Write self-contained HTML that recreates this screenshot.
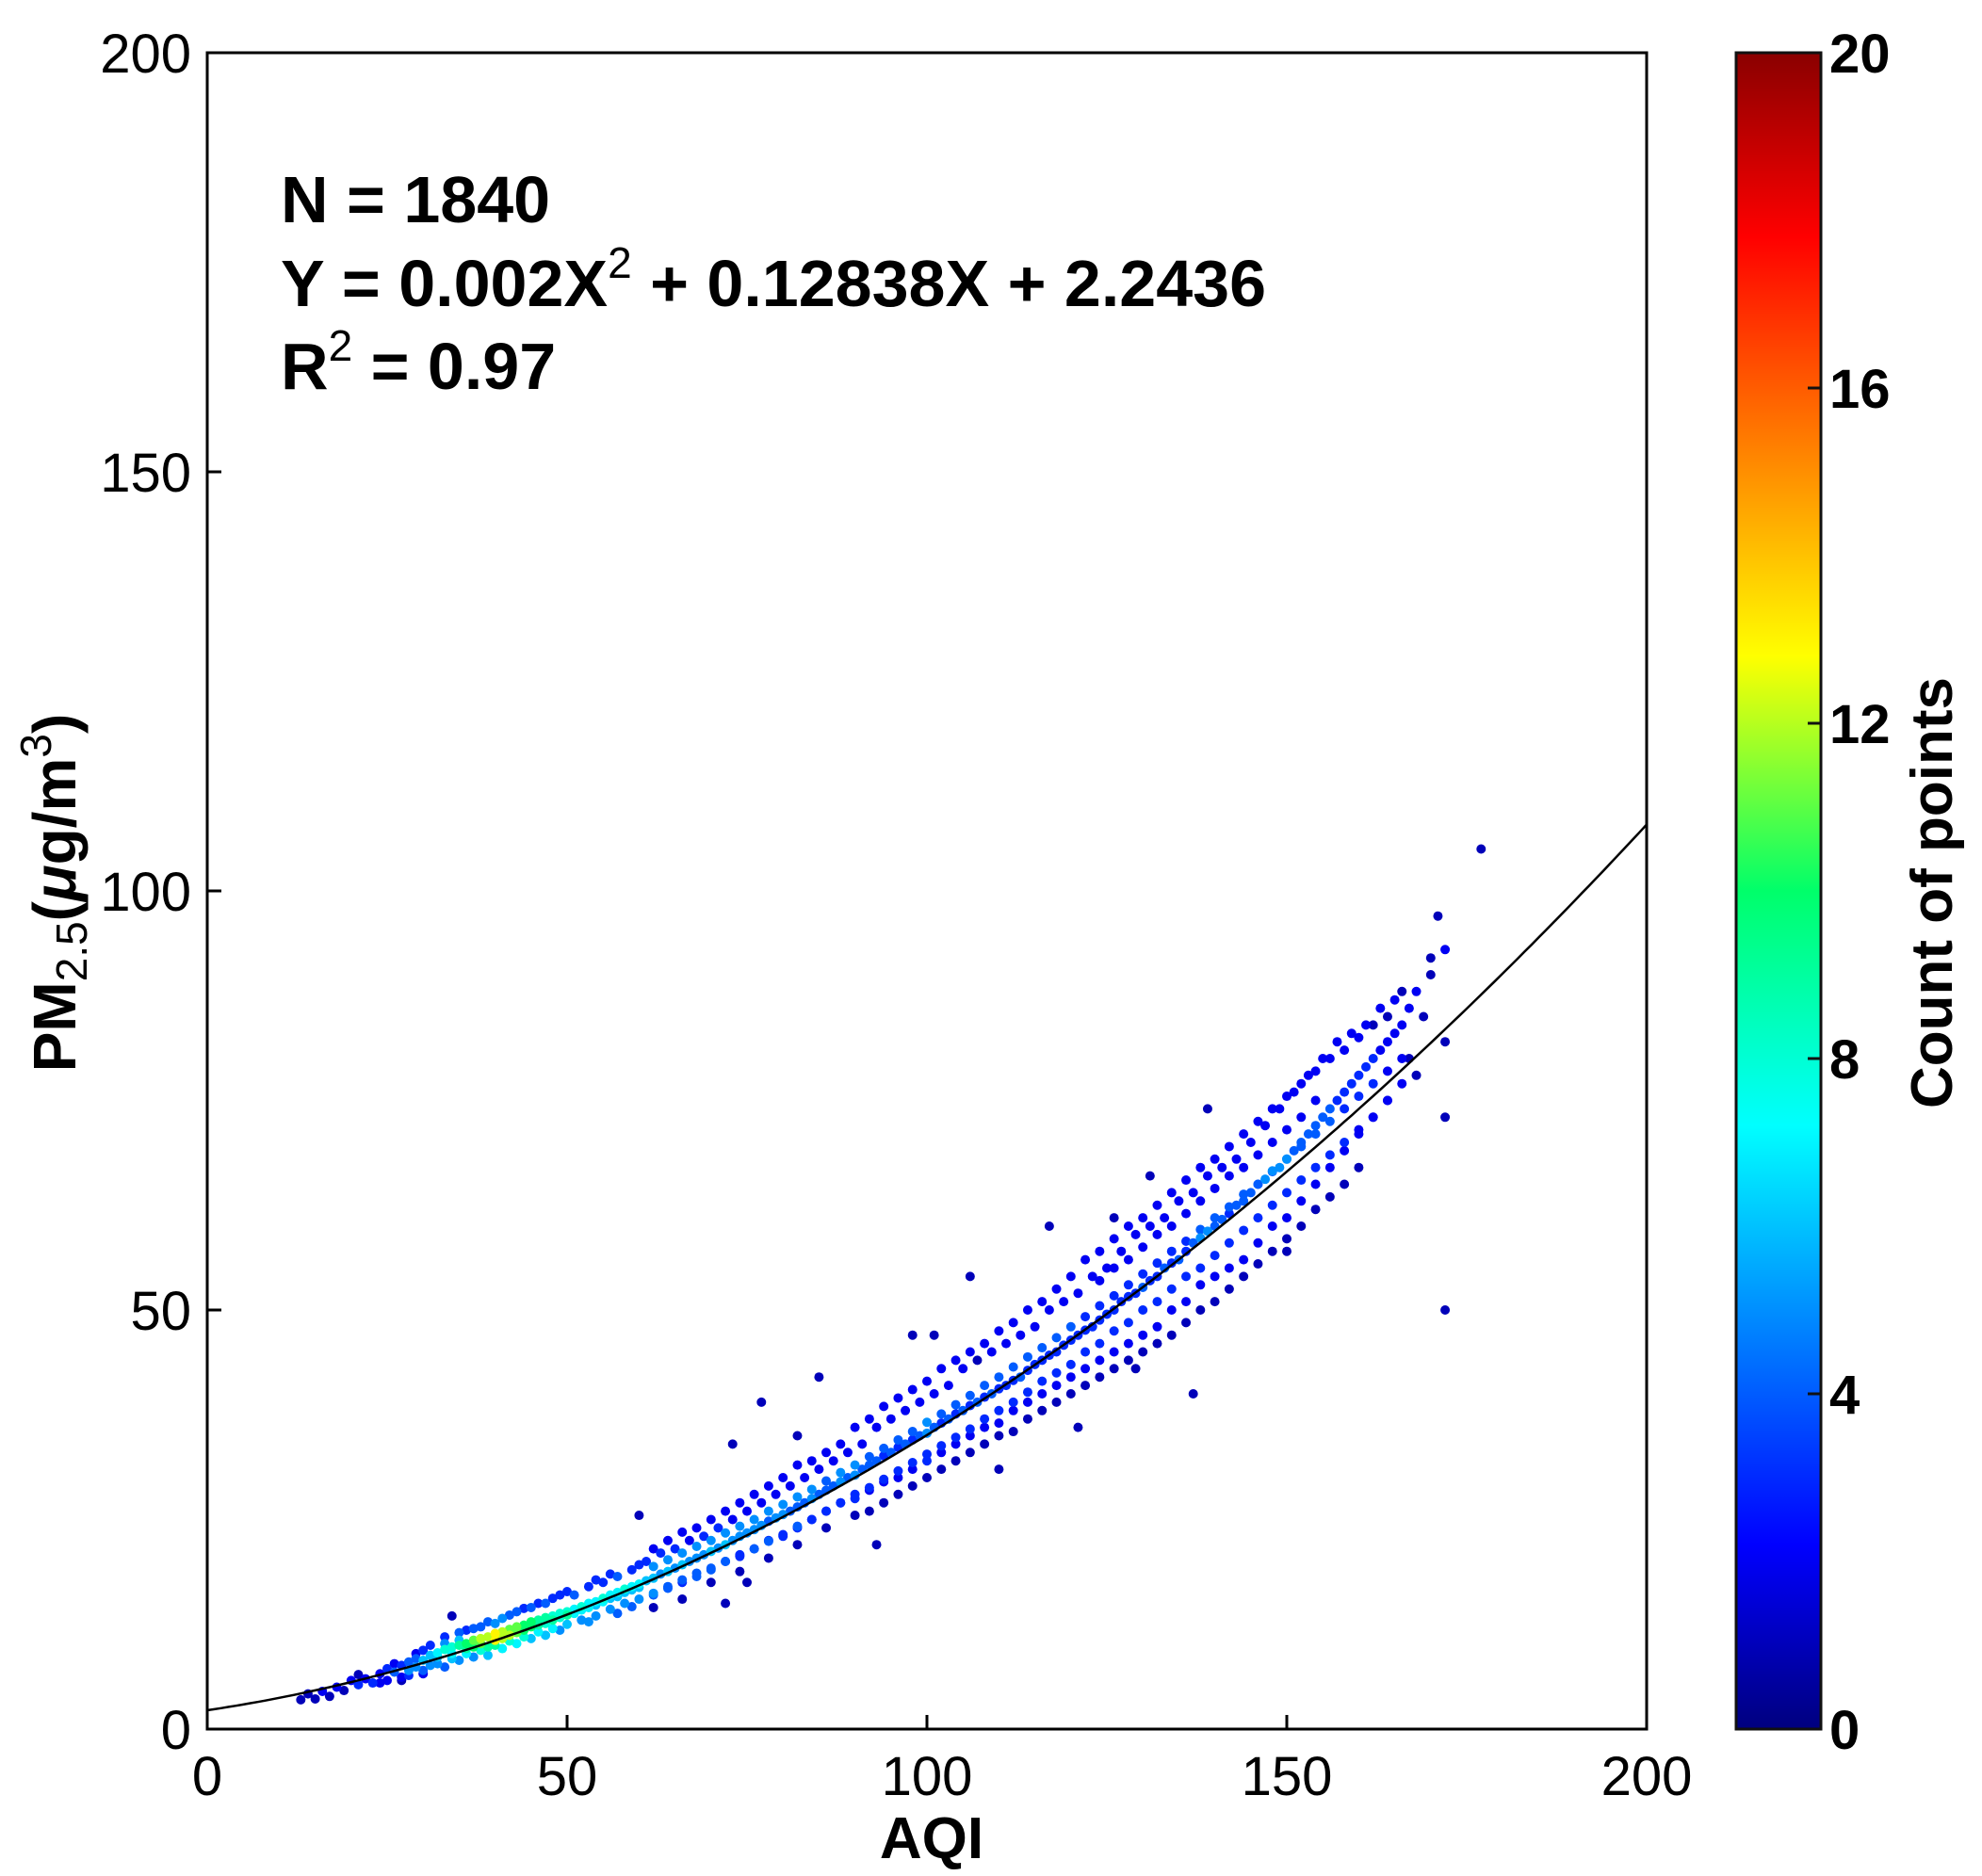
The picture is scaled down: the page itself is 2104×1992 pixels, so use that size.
<!DOCTYPE html>
<html><head><meta charset="utf-8"><title>PM2.5 vs AQI density scatter</title>
<style>
html,body{margin:0;padding:0;background:#fff;}
svg{display:block;font-family:"Liberation Sans",Arial,sans-serif;}
</style></head>
<body>
<svg id="chart" width="2104" height="1992" viewBox="0 0 2104 1992" xmlns="http://www.w3.org/2000/svg">
<defs>
<linearGradient id="jet" x1="0" y1="1" x2="0" y2="0">
<stop offset="0" stop-color="#00007f"/>
<stop offset="0.11" stop-color="#0000ff"/>
<stop offset="0.36" stop-color="#00ffff"/>
<stop offset="0.5" stop-color="#00ff6a"/>
<stop offset="0.64" stop-color="#ffff00"/>
<stop offset="0.89" stop-color="#ff0000"/>
<stop offset="1" stop-color="#8a0000"/>
</linearGradient>
<clipPath id="plotclip"><rect x="220" y="56" width="1528" height="1780"/></clipPath>
</defs>
<g id="points" clip-path="url(#plotclip)"></g>
<path id="fit" fill="none" stroke="#000" stroke-width="2.5"/>
<rect x="220" y="56" width="1528" height="1780" fill="none" stroke="#000" stroke-width="3"/>
<g id="xticks"></g>
<g id="yticks"></g>
<text x="989" y="1973" text-anchor="middle" font-size="62" font-weight="bold">AQI</text>
<text transform="translate(80,948) rotate(-90)" text-anchor="middle" font-size="64" font-weight="bold">PM<tspan font-weight="normal" font-size="46" dy="12">2.5</tspan><tspan dy="-12">(</tspan><tspan font-style="italic">μ</tspan>g/m<tspan font-weight="normal" font-size="46" dy="-26">3</tspan><tspan dy="26">)</tspan></text>
<g font-weight="bold" font-size="70">
<text x="298" y="236">N = 1840</text>
<text x="298" y="325">Y = 0.002X<tspan font-weight="normal" font-size="46" dy="-30">2</tspan><tspan dy="30"> + 0.12838X + 2.2436</tspan></text>
<text x="298" y="413">R<tspan font-weight="normal" font-size="46" dy="-30">2</tspan><tspan dy="30"> = 0.97</tspan></text>
</g>
<rect x="1843" y="56" width="90" height="1780" fill="url(#jet)" stroke="#111" stroke-width="3"/>
<g id="cticks"></g>
<text transform="translate(2072,948) rotate(-90)" text-anchor="middle" font-size="62" font-weight="bold">Count of points</text>
</svg>
<script>
const xTicks = [0, 50, 100, 150, 200];
const yTicks = [0, 50, 100, 150, 200];
const cTicks = [0, 4, 8, 12, 16, 20];
const fitCoef = [0.002, 0.12838, 2.2436];
const aqi = [13,14,15,16,17,18,19,20,21,21,22,23,24,25,25,26,27,27,28,28,29,29,30,30,30,
31,31,32,32,33,33,34,34,34,35,35,36,36,37,37,38,38,39,39,40,40,41,41,42,42,43,43,44,44,45,45,46,46,47,47,48,48,49,49,50,50,
51,51,52,52,53,53,54,54,55,55,56,56,57,57,58,58,59,59,60,60,61,61,62,62,63,63,64,64,65,65,66,66,67,67,68,68,69,69,70,70,60,73,72,75,
71,71,72,72,73,73,74,74,75,75,76,76,77,77,78,78,79,79,80,80,81,81,82,82,83,83,84,84,85,85,86,86,87,87,88,88,89,89,90,90,77,85,82,93,
91,91,92,92,93,93,94,94,95,95,96,96,97,97,98,98,99,99,100,100,101,101,102,102,103,103,104,104,105,105,106,106,107,107,108,108,109,109,110,110,111,111,112,112,113,113,114,114,115,115,116,116,117,117,118,118,119,119,120,120,98,106,110,101,121,117,
121,121,122,122,123,123,124,124,125,125,126,126,127,127,128,128,129,129,130,130,131,131,132,132,133,133,134,134,135,135,136,136,137,137,138,138,139,139,140,140,141,141,142,142,143,143,144,144,145,145,146,146,147,147,148,148,149,149,150,150,151,151,152,152,153,153,154,154,155,155,156,156,157,157,158,158,159,159,160,160,161,161,162,162,163,163,164,164,126,139,129,137,150,131,
165,165,166,167,167,168,169,170,171,172,172,172,172,177,170,168,
24,26,27,28,29,30,31,32,33,33,34,35,35,36,36,37,37,38,38,39,39,40,40,41,41,42,42,43,43,44,44,45,45,46,46,47,47,48,48,49,49,50,50,51,52,53,53,54,54,55,56,56,57,57,58,59,59,60,60,
62,62,62,62,64,64,64,66,66,66,66,68,68,68,70,70,70,70,72,72,72,74,74,74,74,76,76,76,78,78,78,78,80,80,80,82,82,82,82,84,84,84,86,86,86,86,88,88,88,
90,90,90,90,92,92,92,92,94,94,94,94,96,96,96,96,98,98,98,98,100,100,100,100,102,102,102,102,104,104,104,104,106,106,106,106,108,108,108,108,110,110,110,110,112,112,112,112,114,114,114,114,116,116,116,116,118,118,118,118,120,120,120,120,
122,122,122,122,124,124,124,124,124,126,126,126,126,126,128,128,128,128,128,130,130,130,130,130,132,132,132,132,132,134,134,134,134,134,136,136,136,136,136,138,138,138,138,138,140,140,140,140,140,142,142,142,142,142,144,144,144,144,144,146,146,146,146,146,148,148,148,148,148,150,150,150,150,150,152,152,152,152,152,154,154,154,154,154,156,156,156,156,158,158,158,158,160,160,160,160,162,162,162,164,164,164,166,166,166];
const pm = [3.5,4.2,3.6,4.5,3.9,5,4.6,5.8,5.3,6.5,6,5.5,6.6,7.2,5.8,6.8,7.6,6.2,8,7,7.4,9,8.2,9.4,7,
8.8,10,9.1,7.8,9.5,11,9.8,8.4,13.5,10,11.5,10.2,9,10.6,12,10.8,9.4,11,12.8,11.4,10,11.6,13.2,11.9,10.5,12.2,14,12.4,11,12.8,14.5,13,11.6,13.3,15,13.5,12,13.8,16,14,12.5,
14.3,16,14.6,13,15,17,15.2,13.5,15.6,17.5,16,14.3,16.3,18.2,16.7,15,17,19,17.3,15.5,17.7,20,18,16.2,18.5,21,18.8,17,19.2,21.5,19.6,17.8,20,22.5,20.4,18.6,20.8,23,21.2,19,25.5,34,15,17.5,
21.6,24,22,20,22.5,25,23,20.8,23.4,26,23.8,21.5,24.3,27,24.8,22.5,25.2,28,25.6,23,26,29,26.5,24,27,30,27.5,25,28,31,28.5,26,29,32,29.5,27,30,33,30.3,27.5,39,42,35,22,
31,34,31.5,28.5,32,36,32.6,29.5,33,37,33.6,30,34,38,34.5,31,35,39,35.3,32,36,40,36.5,33,37,41,37.6,34,38,43,38.6,35,39,44,39.6,36,40,45,40.6,36.5,41,46,41.6,38,42,47,42.8,39,43.5,48,44,40,44.6,50,45,41,45.8,51,46.4,42,47,54,31,47,36,60,
47,52,47.6,43,48,54,48.8,44,49.5,55,50,45,51,57,51.6,46,52,59,52.7,47,53.5,60,54,48,55,61,55.6,50,56,63,57,51,58,64,58.6,53,59.4,66,60,54,60.8,67,61.5,55,62.5,68,63,56,64,70,65,58,65.6,72,66.5,60,67,74,68,61,69,76,70,63,71,78,72,65,73,80,74,67,75,82,76,69,77,83,78,71,79,84,80,73,81,86,82,75,61,74,43,40,57,66,
83,87,84,86,80,88,85,90,97,93,82,73,50,105,92,78,
5.5,7.8,5.8,6.4,8.4,6.6,7.6,8.6,7.4,10.2,9,8.2,10.6,9.6,11.8,8.6,9.8,10.2,12.2,9.8,8.8,10.6,12.6,10.8,9.6,11.2,13.6,11.5,10.2,11.8,14.4,12.2,10.8,12.4,15,12.6,11.2,13,15.6,13.3,11.8,13.6,16.4,13.8,14.2,14.5,12.8,14.8,17.8,15.2,15.6,18.5,15.8,13.8,16.3,16.6,14.6,16.9,19.6,
19.4,16,21.5,14.5,20.2,16.8,22.5,21,17.5,23.5,15.5,21.8,18.2,24,22.5,19.2,25,17.5,23.4,20,26,24.2,20.6,27,18.8,25,21.5,28,26,22.4,29,20.4,26.8,23.2,30,27.7,24.2,31.5,22,28.6,25,32,29.6,26,33,24,30.6,27,34,
31.5,28,36,25.5,32.5,28.8,37,26,33.5,29.8,38.5,27,34.5,30.8,39.5,28,35.5,31.8,40.5,29,36.6,32.8,41.5,30,37.6,33.8,43,31,38.7,34.8,44,32,39.8,35.8,45,33,41,37,46,34,42,38,47.5,35,43.2,39,48.5,35.5,44.4,40.2,50,37,45.5,41.5,51,38,46.7,42.5,52.5,39,48,43.5,54,40,
49.2,45,56,41,50.5,46,57,42,53.5,51.7,47.5,58.5,43,55,53,48.5,60,44,56,54.3,50,61,45,57.5,55.6,51,62.5,46,59,57,52.5,64,47,60,58.2,54,65.5,48.5,61.5,59.6,55,67,50,63,61,56.5,68,51,64.5,62.3,58,69.5,52.5,66,63.8,59.5,71,54,67,65,61,72.5,55.5,68.5,66.6,62.5,74,57,70,68,64,75.5,58.5,71.5,69.5,65.5,77,60,73,71,67,78.5,62,75,72.5,68.5,80,63.5,74,70,81,65,75.5,71.5,82.5,67,77,73,84,78.5,75,85,80,77,88];
const counts = [1,1,1,2,1,2,1,2,3,1,2,3,2,3,2,4,3,2,4,5,5,2,6,3,4,
6,3,7,5,8,3,8,6,1,9,4,10,7,11,4,12,8,12,4,13,9,12,5,11,8,11,4,10,8,10,4,9,7,9,4,8,7,8,3,8,6,
7,4,8,5,7,3,7,5,8,3,7,5,7,4,8,5,7,3,7,5,6,3,6,5,5,3,6,4,5,3,6,4,5,2,5,4,5,3,6,4,1,1,1,1,
5,3,6,4,5,2,5,3,5,2,5,3,5,2,4,3,5,2,5,3,4,2,4,3,4,2,5,3,4,2,4,3,4,2,5,3,4,2,5,3,1,1,1,1,
4,2,4,2,4,2,3,2,4,2,3,2,4,2,3,2,4,2,5,3,4,2,3,2,4,2,3,2,4,2,3,2,4,1,3,2,4,2,3,2,3,2,3,2,4,2,3,2,3,2,3,2,3,2,3,2,3,2,3,2,1,1,1,1,1,1,
3,2,3,2,3,2,3,2,3,2,3,2,3,2,3,2,3,2,4,2,3,2,3,2,4,2,3,2,4,2,3,2,4,2,5,2,5,2,4,2,4,2,3,2,4,2,4,2,4,2,4,2,5,2,4,2,5,2,5,2,4,2,4,2,4,2,4,2,4,2,4,2,3,2,3,2,3,2,3,2,3,2,3,2,2,2,2,2,1,1,1,1,1,1,
2,2,2,2,1,2,1,1,1,2,1,1,1,1,1,1,
2,2,1,3,4,2,5,6,4,5,7,5,6,9,3,5,10,11,4,9,6,13,5,12,7,12,4,11,7,10,3,10,6,9,3,8,6,9,3,8,5,9,3,7,7,7,5,6,3,7,6,3,6,4,6,6,4,6,3,
5,4,2,1,5,4,2,5,3,2,1,5,4,2,5,4,2,1,5,4,2,5,3,2,1,5,4,2,5,4,2,1,5,3,2,5,4,2,1,5,3,2,4,3,2,1,5,3,2,
5,3,2,1,4,3,2,1,4,3,2,1,4,3,2,1,4,3,2,1,5,3,2,1,4,3,2,1,4,3,2,1,4,3,2,1,4,3,2,1,4,3,2,1,4,3,2,1,4,3,2,1,4,3,2,1,4,3,2,1,4,3,2,1,
3,3,2,1,3,3,2,1,2,3,3,2,1,2,3,3,2,1,2,3,3,2,1,2,3,3,2,1,2,3,3,2,1,2,3,3,2,1,2,4,3,2,1,2,4,3,2,1,2,4,3,2,1,2,4,3,2,1,2,4,3,2,1,2,5,3,2,1,2,5,3,2,1,2,4,3,2,1,2,4,3,2,1,2,4,3,2,1,3,3,2,1,3,2,2,1,3,2,1,2,2,1,2,2,1];

const NS = 'http://www.w3.org/2000/svg';
const X0 = 220, X1 = 1748, Y0 = 1836, Y1 = 56;
function xScale(v){ return X0 + (v - 0) / 200 * (X1 - X0); }
function yScale(v){ return Y0 - (v - 0) / 200 * (Y0 - Y1); }
function cScale(v){ return Y0 - v / 20 * (Y0 - Y1); }
const jetStops = [[0,[0,0,127]],[0.11,[0,0,255]],[0.36,[0,255,255]],[0.5,[0,255,106]],[0.64,[255,255,0]],[0.89,[255,0,0]],[1,[138,0,0]]];
function jet(c){
  let t = Math.max(0, Math.min(1, c / 20));
  for (let i = 1; i < jetStops.length; i++) {
    if (t <= jetStops[i][0]) {
      const a = jetStops[i-1], b = jetStops[i];
      const f = (t - a[0]) / (b[0] - a[0]);
      const col = a[1].map((v, k) => Math.round(v + (b[1][k] - v) * f));
      return 'rgb(' + col.join(',') + ')';
    }
  }
  return 'rgb(138,0,0)';
}

const gp = document.getElementById('points');
const n = Math.min(aqi.length, pm.length, counts.length);
const order = [];
for (let i = 0; i < n; i++) order.push(i);
order.sort((a, b) => counts[a] - counts[b]);
order.forEach(i => {
  const c = document.createElementNS(NS, 'circle');
  c.setAttribute('cx', xScale(aqi[i]));
  c.setAttribute('cy', yScale(pm[i]));
  c.setAttribute('r', 5);
  c.setAttribute('fill', jet(counts[i]));
  
  
  gp.appendChild(c);
});

let d = '';
for (let x = 0; x <= 200; x += 1) {
  const y = fitCoef[0] * x * x + fitCoef[1] * x + fitCoef[2];
  d += (x === 0 ? 'M' : 'L') + xScale(x).toFixed(1) + ',' + yScale(y).toFixed(1);
}
document.getElementById('fit').setAttribute('d', d);

const gx = document.getElementById('xticks');
xTicks.forEach(v => {
  const l = document.createElementNS(NS, 'line');
  l.setAttribute('x1', xScale(v)); l.setAttribute('x2', xScale(v));
  l.setAttribute('y1', Y0); l.setAttribute('y2', Y0 - 15);
  l.setAttribute('stroke', '#000'); l.setAttribute('stroke-width', 3);
  
  
  gx.appendChild(l);
  const t = document.createElementNS(NS, 'text');
  t.setAttribute('x', xScale(v)); t.setAttribute('y', 1906);
  t.setAttribute('text-anchor', 'middle'); t.setAttribute('font-size', 58);
  t.textContent = v;
  
  
  gx.appendChild(t);
});
const gy = document.getElementById('yticks');
yTicks.forEach(v => {
  const l = document.createElementNS(NS, 'line');
  l.setAttribute('x1', X0); l.setAttribute('x2', X0 + 15);
  l.setAttribute('y1', yScale(v)); l.setAttribute('y2', yScale(v));
  l.setAttribute('stroke', '#000'); l.setAttribute('stroke-width', 3);
  
  
  gy.appendChild(l);
  const t = document.createElementNS(NS, 'text');
  t.setAttribute('x', 203); t.setAttribute('y', yScale(v) + 21);
  t.setAttribute('text-anchor', 'end'); t.setAttribute('font-size', 58);
  t.textContent = v;
  
  
  gy.appendChild(t);
});
const gc = document.getElementById('cticks');
cTicks.forEach(v => {
  const l = document.createElementNS(NS, 'line');
  l.setAttribute('x1', 1933); l.setAttribute('x2', 1919);
  l.setAttribute('y1', cScale(v)); l.setAttribute('y2', cScale(v));
  l.setAttribute('stroke', '#111'); l.setAttribute('stroke-width', 3);
  
  
  gc.appendChild(l);
  const t = document.createElementNS(NS, 'text');
  t.setAttribute('x', 1942); t.setAttribute('y', cScale(v) + 21);
  t.setAttribute('font-size', 58); t.setAttribute('font-weight', 'bold');
  t.textContent = v;
  
  
  gc.appendChild(t);
});
</script>
</body></html>
